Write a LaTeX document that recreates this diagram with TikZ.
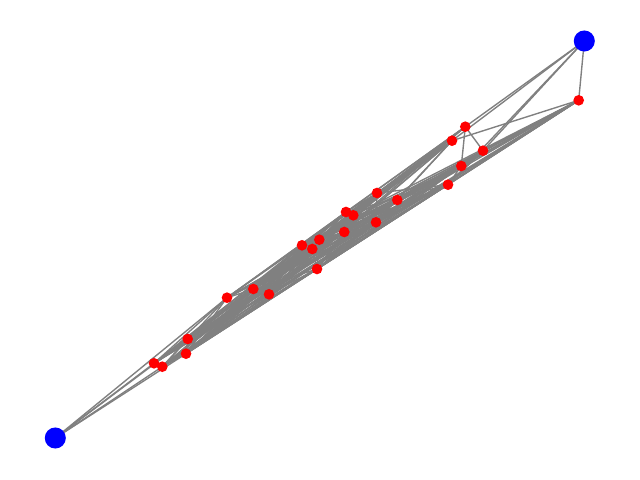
\documentclass[tikz,border=0pt]{standalone}
\usetikzlibrary{backgrounds}

\begin{document}
\begin{tikzpicture}[x=0.01in,y=-0.01in,
    rednode/.style={circle,fill=red,inner sep=0pt,minimum size=7.7pt},
    bluenode/.style={circle,fill=blue,inner sep=0pt,minimum size=15.2pt},
    edge/.style={draw=gray,line width=1pt}]
\useasboundingbox (0,0) rectangle (640,480);
% red nodes
\foreach \n/\x/\y in {1/578.7/100.3,2/465.3/126.7,3/452/140.7,4/483/150.7,5/461.3/166,
    6/448/184.7,7/377/193,8/397.3/200,9/346/212,10/353.3/215.3,11/376/222.3,
    12/344.3/232,13/319.3/239.7,14/302/245.3,15/312.3/249,16/317/269,
    17/253.3/289,18/269/294.3,19/227/297.7,20/187.7/339,21/186/353.7,
    22/154/363.3,23/162.3/366.7} {
    \node[rednode] (r\n) at (\x,\y) {};
}
% blue end nodes
\node[bluenode] (bA) at (584.3,41) {};
\node[bluenode] (bB) at (55.3,438) {};
\begin{scope}[on background layer]
\pgfmathsetseed{7}
\foreach \i in {1,...,22} {
    \pgfmathtruncatemacro{\inext}{\i+1}
    \foreach \j in {\inext,...,23} {
        \pgfmathtruncatemacro{\keep}{rnd<0.62}
        \ifnum\keep=1 \draw[edge] (r\i.center) -- (r\j.center); \fi
    }
}
\foreach \t in {1,2,3,4,6} \draw[edge] (bA.center) -- (r\t.center);
\foreach \t in {19,20,21,22,23} \draw[edge] (bB.center) -- (r\t.center);
\end{scope}
\end{tikzpicture}
\end{document}
